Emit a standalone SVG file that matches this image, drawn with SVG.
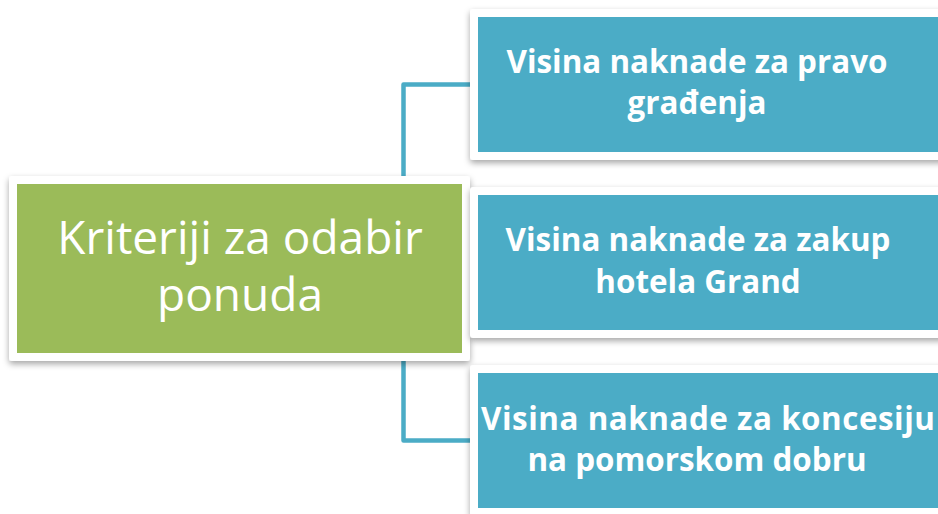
<svg xmlns="http://www.w3.org/2000/svg" width="938" height="514" viewBox="0 0 938 514">
<defs>
<filter id="sh" x="-10%" y="-10%" width="120%" height="130%">
<feDropShadow dx="0" dy="3" stdDeviation="3" flood-color="#000" flood-opacity="0.35"/>
</filter>
</defs>
<style>
.frame{fill:#ffffff;filter:url(#sh);}
.green{fill:#9BBB59;}
.blue{fill:#4BACC6;}
.conn{fill:none;stroke:#4BACC6;stroke-width:4.5;stroke-linejoin:round;}
.t1{font-family:"Open Sans",sans-serif;font-size:46px;fill:#ffffff;text-anchor:middle;}
.t2{font-family:"Open Sans",sans-serif;font-weight:bold;font-size:31.4px;fill:#ffffff;text-anchor:middle;}
</style>
<rect width="938" height="514" fill="#ffffff"/>
<g id="connectors">
<path class="conn" d="M472,84.5 H403.5 V440.5 H472"/>
<path class="conn" d="M403.5,262.5 H472"/>
</g>
<g id="node-root">
<rect class="frame" x="9" y="176" width="461" height="185" rx="3"/>
<rect class="green" x="17" y="184" width="445" height="169"/>
<text class="t1" x="240" y="254">Kriteriji za odabir</text>
<text class="t1" x="240" y="311">ponuda</text>
</g>
<g id="node-1">
<rect class="frame" x="470" y="9" width="480" height="151" rx="3"/>
<rect class="blue" x="478" y="17" width="470" height="135"/>
<text class="t2" x="697" y="73">Visina naknade za pravo</text>
<text class="t2" x="697" y="114">građenja</text>
</g>
<g id="node-2">
<rect class="frame" x="470" y="187" width="480" height="151" rx="3"/>
<rect class="blue" x="478" y="195" width="470" height="135"/>
<text class="t2" x="698" y="251">Visina naknade za zakup</text>
<text class="t2" x="698" y="293">hotela Grand</text>
</g>
<g id="node-3">
<rect class="frame" x="470" y="365" width="480" height="151" rx="3"/>
<rect class="blue" x="478" y="373" width="470" height="135"/>
<text class="t2" x="481" y="430" style="text-anchor:start" textLength="454" lengthAdjust="spacing">Visina naknade za koncesiju</text>
<text class="t2" x="697" y="471">na pomorskom dobru</text>
</g>
</svg>
